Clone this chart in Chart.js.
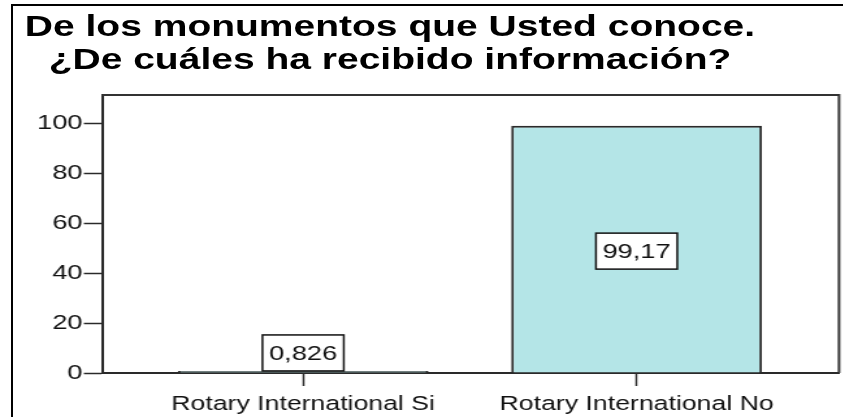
<!DOCTYPE html>
<html>
<head>
<meta charset="utf-8">
<script src="https://cdn.jsdelivr.net/npm/chart.js@4.4.0/dist/chart.umd.min.js"></script>
<style>
  html, body { margin: 0; padding: 0; background: #fff; overflow: hidden; }
  body { width: 843px; height: 417px; position: relative; }
  #frame { position: absolute; left: 11px; top: 4px; width: 900px; height: 480px;
           border-left: 2px solid #000; border-top: 2px solid #000; }
  /* the reference is stretched sideways, so draw narrow and scale */
  #wrap { position: absolute; left: 0; top: 0; width: 648px; height: 417px;
          transform: scaleX(1.3); transform-origin: 0 0; }
  #title { position: absolute; left: 0; top: 9px; width: 600px; text-align: center;
           font: bold 30px "Liberation Sans", Arial, sans-serif; line-height: 33px; color: #000; }
  canvas { position: absolute; left: 0; top: 0; }
</style>
</head>
<body>
<div id="frame"></div>
<div id="wrap">
  <div id="title">De los monumentos que Usted conoce.<br>¿De cuáles ha recibido información?</div>
  <canvas id="chart" width="648" height="417"></canvas>
</div>
<script>
const categories = ['Rotary International Si', 'Rotary International No'];
const values = [0.826, 99.17];
const yTicks = [0, 20, 40, 60, 80, 100];

const FONT = '"Liberation Sans", Arial, sans-serif';
const AXIS = '#2a2a2a';

// top and right edges of the plot box
const plotFrame = {
    id: 'plotFrame',
    beforeDatasetsDraw(chart) {
        const { ctx, chartArea: a } = chart;
        ctx.save();
        ctx.strokeStyle = '#333';
        ctx.lineWidth = 2;
        ctx.beginPath();
        ctx.moveTo(a.left, a.top);
        ctx.lineTo(a.right, a.top);
        ctx.lineTo(a.right, a.bottom);
        ctx.stroke();
        ctx.restore();
    }
};

// boxed value labels, SPSS style
const boxLabels = {
    id: 'boxLabels',
    afterDatasetsDraw(chart) {
        const { ctx } = chart;
        const meta = chart.getDatasetMeta(0);
        ctx.save();
        ctx.font = '21px ' + FONT;
        ctx.textAlign = 'center';
        ctx.textBaseline = 'middle';
        meta.data.forEach((bar, i) => {
            const text = String(values[i]).replace('.', ',');
            const w = ctx.measureText(text).width + 10;
            const h = 36;
            const barH = bar.base - bar.y;
            const cy = barH > h + 4 ? (bar.y + bar.base) / 2 + 2 : bar.y - h / 2;
            ctx.fillStyle = '#fff';
            ctx.fillRect(bar.x - w / 2, cy - h / 2, w, h);
            ctx.strokeStyle = '#111';
            ctx.lineWidth = 1.5;
            ctx.strokeRect(bar.x - w / 2, cy - h / 2, w, h);
            ctx.fillStyle = '#111';
            ctx.fillText(text, bar.x, cy + 1);
        });
        ctx.restore();
    }
};

new Chart(document.getElementById('chart'), {
    type: 'bar',
    data: {
        datasets: [{
            data: categories.map((c, i) => ({ x: i + 1, y: values[i] })),
            backgroundColor: '#b4e5e7',
            borderColor: '#2a2a2a',
            borderWidth: 2,
            barPercentage: 0.752,
            categoryPercentage: 1
        }]
    },
    options: {
        responsive: false,
        animation: false,
        layout: { padding: { top: 95, right: 2.6, left: 0, bottom: 0 } },
        plugins: { legend: { display: false }, tooltip: { enabled: false }, title: { display: false } },
        scales: {
            x: {
                type: 'linear',
                min: 0.397,
                max: 2.607,
                offset: false,
                afterBuildTicks: (scale) => { scale.ticks = categories.map((c, i) => ({ value: i + 1 })); },
                afterFit: (scale) => { scale.height = 44; },
                grid: { offset: false, drawOnChartArea: false, tickLength: 13, tickColor: AXIS, tickWidth: 1.5 },
                border: { color: AXIS, width: 2 },
                ticks: {
                    color: '#111',
                    font: { family: FONT, size: 20.5 },
                    padding: 6,
                    autoSkip: false,
                    maxRotation: 0,
                    callback: (v) => categories[v - 1]
                }
            },
            y: {
                min: 0,
                max: 111.5,
                afterBuildTicks: (scale) => { scale.ticks = yTicks.map(v => ({ value: v })); },
                afterFit: (scale) => { scale.width = 78.5; },
                grid: { drawOnChartArea: false, tickLength: 14, tickColor: AXIS, tickWidth: 1.5 },
                border: { color: AXIS, width: 2 },
                ticks: {
                    color: '#111',
                    font: { family: FONT, size: 21 },
                    padding: 1
                }
            }
        }
    },
    plugins: [plotFrame, boxLabels]
});
</script>
</body>
</html>
